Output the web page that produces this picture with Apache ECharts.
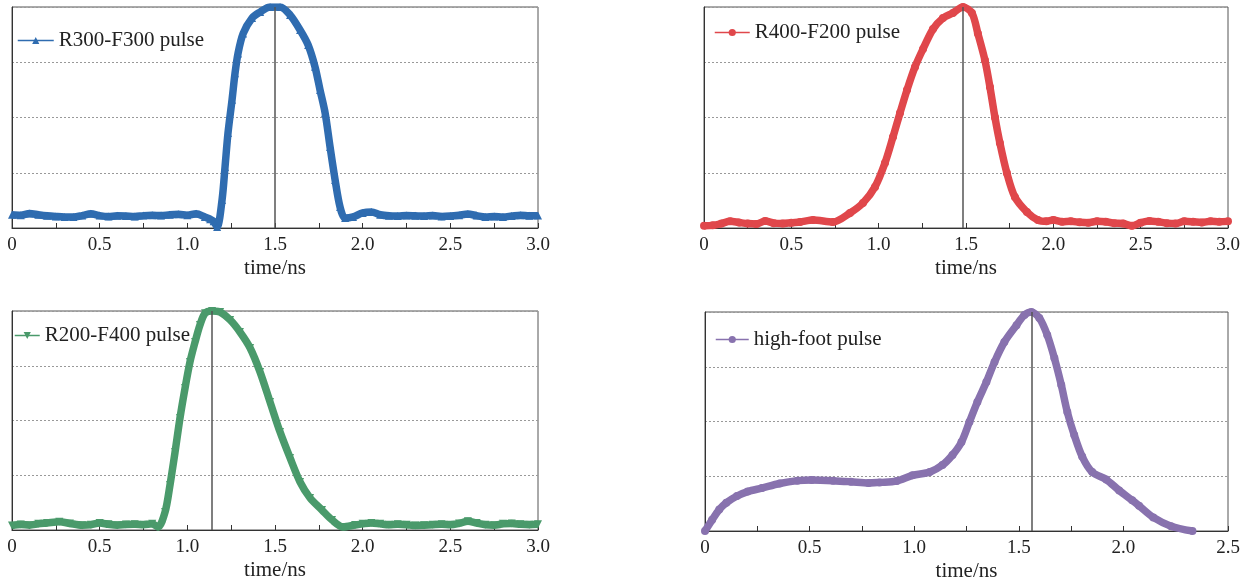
<!DOCTYPE html>
<html><head><meta charset="utf-8">
<script src="https://cdn.jsdelivr.net/npm/echarts@6/dist/echarts.min.js"></script>
<style>html,body{margin:0;padding:0;background:#fff}#c{width:1251px;height:586px}</style>
</head><body><div id="c"></div>
<script>
// ---------- data ----------
const seriesNames = ['R300-F300 pulse', 'R400-F200 pulse', 'R200-F400 pulse', 'high-foot pulse'];
const axisMax = [3, 3, 3, 2.5];
const peakTimes = [1.5, 1.483, 1.141, 1.56];
const tickLabels3 = ['0', '0.5', '1.0', '1.5', '2.0', '2.5', '3.0'];
const tickLabels25 = ['0', '0.5', '1.0', '1.5', '2.0', '2.5'];

const blueT = [0,0.05,0.1,0.15,0.2,0.25,0.3,0.35,0.4,0.45,0.5,0.55,0.6,0.65,0.7,0.75,0.8,0.85,0.9,0.95,1.0,1.05,1.1,1.13,1.15,1.17,1.198,1.215,1.232,1.255,1.272,1.289,1.318,1.369,1.415,1.472,1.529,1.586,1.643,1.689,1.728,1.757,1.786,1.814,1.843,1.871,1.9,1.945,2.0,2.05,2.1,2.15,2.2,2.25,2.3,2.35,2.4,2.45,2.5,2.55,2.6,2.65,2.7,2.75,2.8,2.85,2.9,2.95,3.0];
const blueY = [0.06,0.058,0.066,0.06,0.055,0.052,0.05,0.05,0.056,0.064,0.056,0.052,0.055,0.054,0.052,0.056,0.058,0.056,0.06,0.062,0.058,0.064,0.05,0.04,0.03,0.005,0.127,0.276,0.43,0.58,0.70,0.79,0.88,0.95,0.977,1.0,1.0,0.964,0.896,0.828,0.73,0.624,0.52,0.367,0.217,0.095,0.045,0.05,0.068,0.072,0.06,0.055,0.054,0.056,0.055,0.054,0.056,0.052,0.054,0.058,0.063,0.056,0.05,0.052,0.05,0.054,0.058,0.055,0.056];

const redT = [0,0.05,0.1,0.15,0.2,0.25,0.3,0.35,0.4,0.45,0.5,0.55,0.624,0.738,0.836,0.91,0.979,1.036,1.082,1.122,1.162,1.208,1.254,1.311,1.368,1.425,1.483,1.534,1.568,1.608,1.637,1.666,1.694,1.734,1.78,1.849,1.912,1.96,2.0,2.05,2.1,2.15,2.2,2.25,2.3,2.35,2.4,2.45,2.5,2.55,2.6,2.65,2.7,2.75,2.8,2.85,2.9,2.95,3.0];
const redY = [0.01,0.012,0.02,0.03,0.025,0.02,0.018,0.032,0.022,0.02,0.024,0.027,0.036,0.027,0.068,0.113,0.186,0.294,0.412,0.52,0.624,0.729,0.81,0.90,0.95,0.973,1.0,0.973,0.88,0.76,0.638,0.50,0.385,0.249,0.14,0.072,0.036,0.03,0.036,0.028,0.03,0.026,0.024,0.03,0.028,0.022,0.02,0.01,0.024,0.032,0.028,0.022,0.02,0.03,0.028,0.025,0.03,0.028,0.03];

const greenT = [0,0.05,0.1,0.15,0.2,0.27,0.33,0.4,0.45,0.5,0.55,0.6,0.65,0.7,0.75,0.8,0.833,0.873,0.901,0.93,0.958,0.987,1.015,1.044,1.072,1.101,1.141,1.187,1.244,1.30,1.358,1.415,1.472,1.529,1.586,1.643,1.70,1.768,1.825,1.888,1.957,2.0,2.05,2.1,2.15,2.2,2.25,2.3,2.35,2.4,2.45,2.5,2.55,2.6,2.65,2.7,2.75,2.8,2.85,2.9,2.95,3.0];
const greenY = [0.02,0.025,0.022,0.028,0.032,0.038,0.03,0.022,0.024,0.032,0.026,0.022,0.025,0.026,0.024,0.028,0.014,0.082,0.205,0.356,0.511,0.648,0.767,0.858,0.936,0.99,1.0,0.995,0.959,0.904,0.831,0.721,0.584,0.447,0.329,0.219,0.146,0.091,0.046,0.014,0.023,0.028,0.032,0.028,0.024,0.026,0.024,0.02,0.022,0.024,0.026,0.024,0.03,0.04,0.032,0.024,0.022,0.028,0.03,0.026,0.024,0.026];

const purpleT = [0,0.034,0.068,0.102,0.153,0.204,0.272,0.357,0.442,0.51,0.612,0.697,0.782,0.835,0.916,0.992,1.074,1.135,1.183,1.226,1.264,1.302,1.345,1.384,1.431,1.489,1.527,1.56,1.598,1.636,1.67,1.703,1.732,1.765,1.803,1.851,1.918,1.98,2.042,2.075,2.143,2.228,2.33];
const purpleY = [0,0.051,0.098,0.129,0.16,0.18,0.196,0.217,0.23,0.233,0.23,0.225,0.219,0.222,0.228,0.254,0.269,0.301,0.347,0.406,0.498,0.589,0.68,0.772,0.863,0.94,0.986,1.0,0.973,0.895,0.79,0.667,0.543,0.438,0.34,0.269,0.235,0.185,0.14,0.115,0.062,0.022,0.0];

// ---------- build ----------
const zip = (a, b) => a.map((v, i) => [v, b[i]]);
const dataSets = [zip(blueT, blueY), zip(redT, redY), zip(greenT, greenY), zip(purpleT, purpleY)];
const colors = ['#2f6cb0', '#e0474b', '#4a9a6b', '#8872ae'];
const symbols = ['triangle', 'circle', 'triangle', 'circle'];
const rotations = [0, 0, 180, 0];
const tickSets = [tickLabels3, tickLabels3, tickLabels3, tickLabels25];

const grids = [
  {left: 12, top: 7, width: 526, height: 221},
  {left: 704, top: 7, width: 524, height: 221},
  {left: 12, top: 311, width: 526, height: 219},
  {left: 705, top: 312, width: 523, height: 219}
];
const legendPos = [
  {left: 17, top: 30, w: 36}, {left: 714, top: 22, w: 35}, {left: 14, top: 325, w: 25}, {left: 715, top: 329, w: 33}
];
const serif = 'Liberation Serif, Times New Roman, serif';

const option = {
  animation: false,
  grid: grids.map(g => Object.assign({show: true, borderColor: '#555', borderWidth: 1, backgroundColor: 'transparent'}, g)),
  legend: seriesNames.map((n, i) => ({
    data: [n], left: legendPos[i].left, top: legendPos[i].top, padding: 0,
    itemWidth: legendPos[i].w, itemHeight: 9,
    lineStyle: {width: 1.5},
    textStyle: {fontFamily: serif, fontSize: 21, color: '#222'},
    selectedMode: false
  })),
  xAxis: grids.map((g, i) => ({
    type: 'value', gridIndex: i, min: 0, max: axisMax[i], interval: 0.5,
    name: 'time/ns', nameLocation: 'middle', nameGap: 30,
    nameTextStyle: {fontFamily: serif, fontSize: 21, color: '#222'},
    axisLine: {show: true, lineStyle: {color: '#333', width: 1}},
    axisTick: {show: true, inside: true, length: 5, lineStyle: {color: '#333'}},
    minorTick: {show: true, splitNumber: 2, length: 5, lineStyle: {color: '#333'}},
    splitLine: {show: false},
    axisLabel: {
      fontFamily: serif, fontSize: 19, color: '#222', margin: 8,
      formatter: v => tickSets[i][Math.round(v / 0.5)]
    }
  })),
  yAxis: grids.map((g, i) => ({
    type: 'value', gridIndex: i, min: 0, max: 1, interval: 0.25,
    axisLine: {show: true, lineStyle: {color: '#333', width: 1}},
    axisTick: {show: false}, axisLabel: {show: false},
    splitLine: {show: true, lineStyle: {color: '#999', type: [2, 2], width: 1}}
  })),
  series: seriesNames.map((n, i) => ({
    name: n, type: 'line', xAxisIndex: i, yAxisIndex: i,
    data: dataSets[i], smooth: 0.3, showAllSymbol: true,
    symbol: symbols[i], symbolSize: 8, symbolRotate: rotations[i],
    color: colors[i],
    lineStyle: {width: 7.5, color: colors[i]},
    itemStyle: {color: colors[i]},
    z: 3,
    markLine: {
      silent: true, symbol: 'none', animation: false,
      label: {show: false},
      lineStyle: {color: '#555', width: 1.5, type: 'solid'},
      data: [{xAxis: peakTimes[i]}],
      z: 5
    }
  }))
};
const chart = echarts.init(document.getElementById('c'), null, {renderer: 'canvas'});
chart.setOption(option);
</script></body></html>
